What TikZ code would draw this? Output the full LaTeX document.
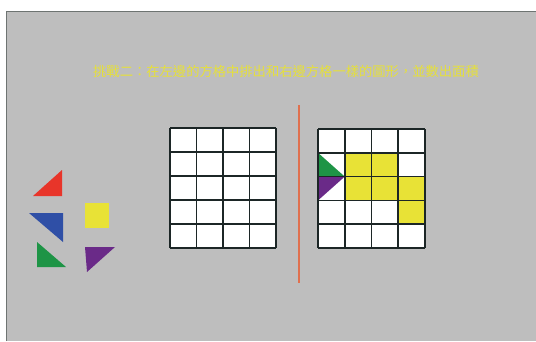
\documentclass[tikz,border=0pt]{standalone}
\usepackage{fontspec}
\newfontfamily\cjktc{Noto Sans CJK TC}
\usepackage{tikz}

\definecolor{panelgray}{HTML}{BEBEBE}
\definecolor{framegray}{HTML}{6E7472}
\definecolor{titleyellow}{HTML}{E6E03A}
\definecolor{gridblack}{HTML}{1C2626}
\definecolor{divider}{HTML}{E0704E}
\definecolor{pcred}{HTML}{E8352A}
\definecolor{pcblue}{HTML}{2F4FA6}
\definecolor{pcyellow}{HTML}{E8E236}
\definecolor{pcgreen}{HTML}{1E9446}
\definecolor{pcpurple}{HTML}{6A2A88}

\tikzset{
  cellline/.style={draw=gridblack, line width=1.6pt},
  piece/.style={draw=none},
}

\begin{document}
\begin{tikzpicture}[x=1pt,y=-1pt]
\useasboundingbox (0,0) rectangle (536,341);
\fill[white] (0,0) rectangle (536,341);
\fill[panelgray] (6,11) rectangle (536,341);
\draw[framegray, line width=1pt] (6.5,341) -- (6.5,11.5) -- (536,11.5);

\node[text=titleyellow, font=\cjktc\fontsize{13.3}{15}\selectfont] (title) at (286,71)
  {挑戰二：在左邊的方格中排出和右邊方格一樣的圖形，並數出面積};

% loose pieces
\fill[pcred] (33,196) -- (62,170) -- (62,196) -- cycle;
\fill[pcblue] (29,213) -- (63,213) -- (63,242) -- cycle;
\fill[pcyellow] (85,203) rectangle (109,228);
\fill[pcgreen] (37,242) -- (37,267) -- (66,267) -- cycle;
\fill[pcpurple] (85,247) -- (115,247) -- (87,272) -- cycle;

% left grid
\fill[white] (170,128) rectangle (276,248);
\foreach \i in {0,...,4}
  \draw[cellline] (170+26.5*\i,128) -- (170+26.5*\i,248);
\foreach \j in {0,...,5}
  \draw[cellline] (170,128+24*\j) -- (276,128+24*\j);

% divider
\draw[divider, line width=2.5pt] (299,105) -- (299,283);

% right grid
\fill[white] (318,129) rectangle (425,248);
\foreach \c/\r in {1/1,2/1,1/2,2/2,3/2,3/3}
  \fill[pcyellow] (318+26.75*\c,129+23.8*\r) rectangle ++(26.75,23.8);
\fill[pcgreen] (318,152.8) -- (318,176.6) -- (344.75,176.6) -- cycle;
\fill[pcpurple] (318,176.6) -- (344.75,176.6) -- (318,200.4) -- cycle;
\foreach \i in {0,...,4}
  \draw[cellline] (318+26.75*\i,129) -- (318+26.75*\i,248);
\foreach \j in {0,...,5}
  \draw[cellline] (318,129+23.8*\j) -- (425,129+23.8*\j);

\end{tikzpicture}
\end{document}
